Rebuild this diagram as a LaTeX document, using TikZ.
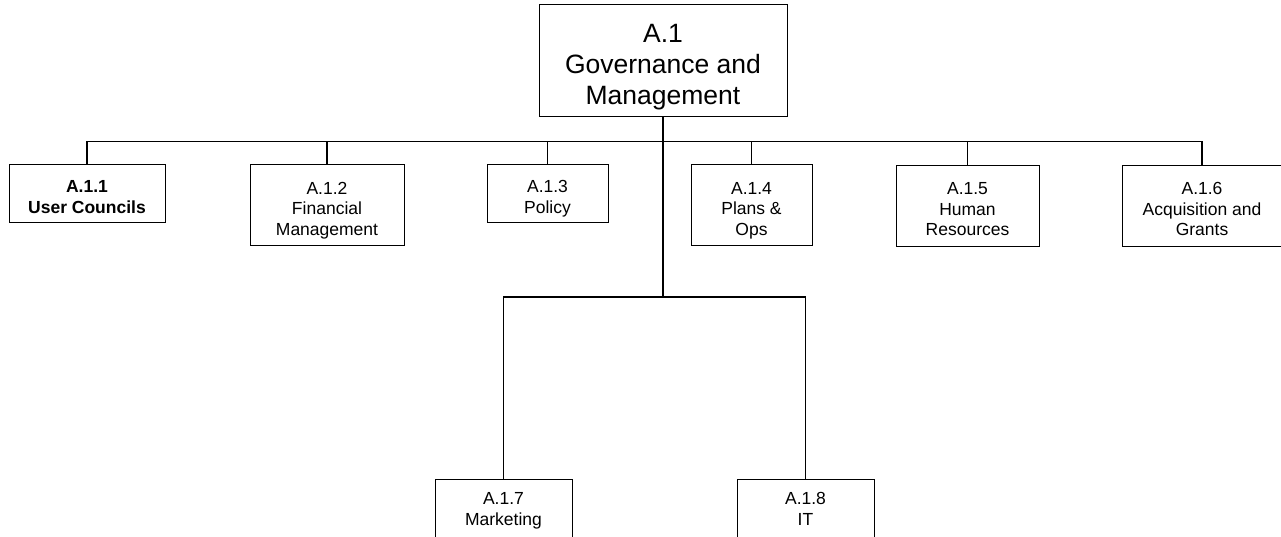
\documentclass[tikz,border=0pt]{standalone}
\usepackage{fontspec}
\setmainfont{Liberation Sans}
% first line lifted, last line given a fixed depth
\newcommand{\boxtext}[2][1.28em]{\rule{0pt}{#1}#2\rule[-0.22em]{0pt}{0pt}}
\begin{document}
\begin{tikzpicture}[x=1pt,y=-1pt,
   box/.style={draw, line width=1pt, align=center, inner sep=0pt,
      font=\fontsize{17.5}{20.7}\selectfont},
   link/.style={line width=1.1pt}]
   \useasboundingbox (0,0) rectangle (1281,537);
   % top box
   \node [box, minimum width=248, minimum height=112,
      font=\fontsize{26.5}{31}\selectfont] (top) at (663,61) {\boxtext[1.16em]{A.1\\Governance and\\Management}};
   % first row
   \node [box, minimum width=156, minimum height=58] (uc) at (87,194) {\boxtext{\textbf{A.1.1}\\\textbf{User Councils}}};
   \node [box, minimum width=154, minimum height=81] (fin) at (327,205.5) {\boxtext{A.1.2\\Financial\\Management}};
   \node [box, minimum width=121, minimum height=58] (pol) at (547.5,194) {\boxtext{A.1.3\\Policy}};
   \node [box, minimum width=121, minimum height=81] (ops) at (751.5,205.5) {\boxtext{A.1.4\\Plans \&\\Ops}};
   \node [box, minimum width=143, minimum height=81] (hr) at (967.5,206) {\boxtext{A.1.5\\Human\\Resources}};
   \node [box, minimum width=160, minimum height=81] (acq) at (1202,206) {\boxtext{A.1.6\\Acquisition and\\Grants}};
   % second row
   \node [box, minimum width=137, minimum height=60] (mkt) at (503.5,509) {\boxtext[0.88em]{A.1.7\\Marketing}};
   \node [box, minimum width=137, minimum height=60] (it) at (805.5,509) {\boxtext[0.88em]{A.1.8\\IT}};
   \coordinate (bus) at (663,141.5);
   \coordinate (sub) at (663,297);
   \draw [link] (top.south)--(bus) -| (uc.north);
   \draw [link] (top.south)--(bus) -| (fin.north);
   \draw [link] (top.south)--(bus) -| (pol.north);
   \draw [link] (top.south)--(bus) -| (ops.north);
   \draw [link] (top.south)--(bus) -| (hr.north);
   \draw [link] (top.south)--(bus) -| (acq.north);
   \draw [link] (top.south)--(sub) -| (mkt.north);
   \draw [link] (top.south)--(sub) -| (it.north);
\end{tikzpicture}
\end{document}
